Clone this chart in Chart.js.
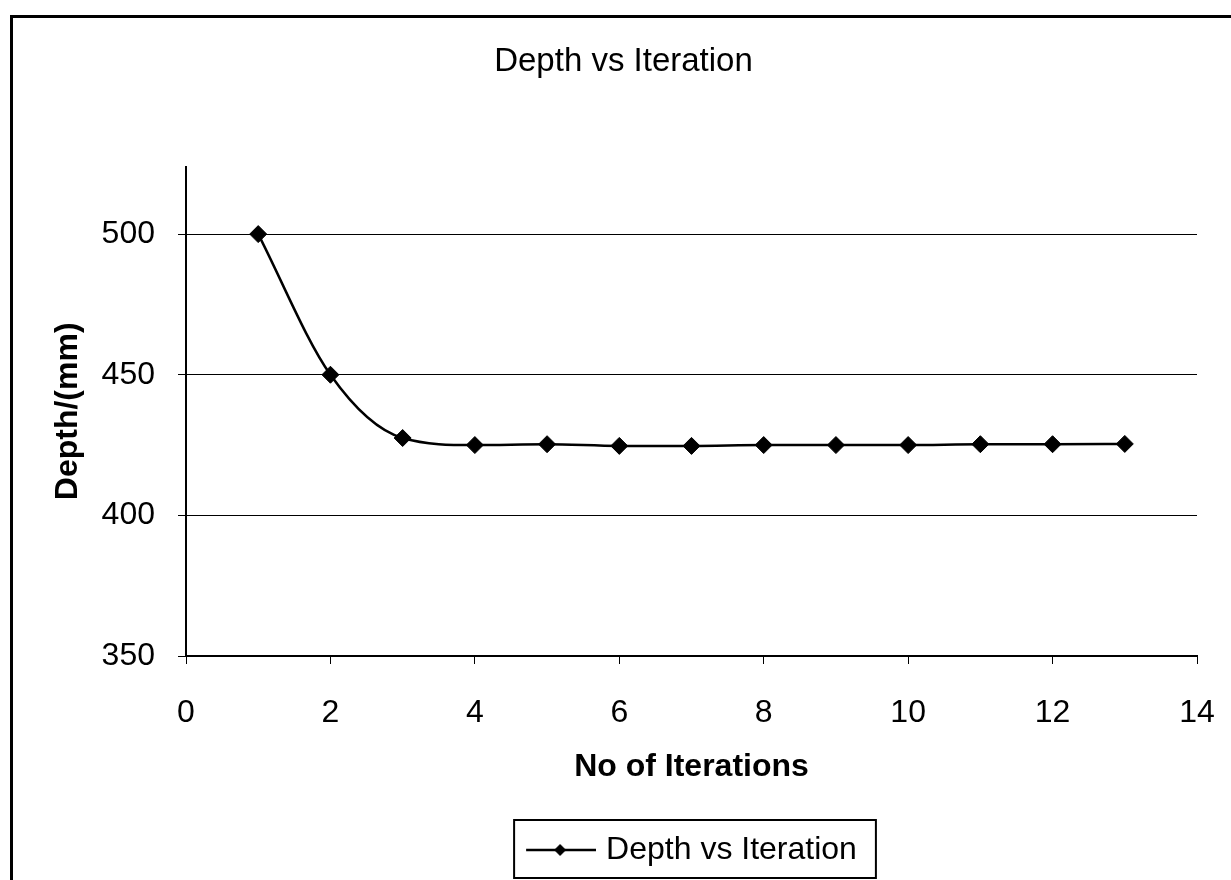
<!DOCTYPE html>
<html>
<head>
<meta charset="utf-8">
<title>Depth vs Iteration</title>
<script src="https://cdn.jsdelivr.net/npm/chart.js@4.4.0/dist/chart.umd.min.js"></script>
<style>
  html, body { margin: 0; padding: 0; background: #fff; }
  #wrap { width: 1231px; height: 880px; }
</style>
</head>
<body>
<div id="wrap"><canvas id="depthChart" width="1231" height="880"></canvas></div>
<script>
// values
const iterations = [1, 2, 3, 4, 5, 6, 7, 8, 9, 10, 11, 12, 13];
const depths = [500, 450, 427.5, 425, 425.3, 424.7, 424.7, 425, 425, 425, 425.3, 425.3, 425.4];
const xTickValues = [0, 2, 4, 6, 8, 10, 12, 14];
const yTickValues = [350, 400, 450, 500];

const FONT = "'Liberation Sans', Arial, sans-serif";

// legend marker: short line with a diamond on it (line sits in the right 70px)
const legendMarker = document.createElement('canvas');
legendMarker.width = 76;
legendMarker.height = 18;
(function () {
  const c = legendMarker.getContext('2d');
  c.strokeStyle = '#000';
  c.lineWidth = 2.5;
  c.beginPath();
  c.moveTo(6, 9);
  c.lineTo(76, 9);
  c.stroke();
  c.fillStyle = '#000';
  c.beginPath();
  c.moveTo(40, 3);
  c.lineTo(46, 9);
  c.lineTo(40, 15);
  c.lineTo(34, 9);
  c.closePath();
  c.fill();
})();

const framePlugin = {
  id: 'frame',
  beforeDraw(chart) {
    const ctx = chart.ctx;
    ctx.save();
    ctx.fillStyle = '#fff';
    ctx.fillRect(0, 0, chart.width, chart.height);
    ctx.strokeStyle = '#000';
    ctx.lineWidth = 3;
    ctx.strokeRect(11.5, 16.5, 1400, 1000);
    ctx.restore();
  },
  afterDraw(chart) {
    const hb = chart.legend && chart.legend.legendHitBoxes && chart.legend.legendHitBoxes[0];
    if (!hb) return;
    const ctx = chart.ctx;
    ctx.save();
    ctx.strokeStyle = '#000';
    ctx.lineWidth = 2;
    ctx.strokeRect(hb.left - 12, hb.top - 14, hb.width + 31, hb.height + 26);
    ctx.restore();
  }
};

const ctx = document.getElementById('depthChart').getContext('2d');
new Chart(ctx, {
  type: 'line',
  data: {
    datasets: [{
      label: 'Depth vs Iteration',
      data: iterations.map((x, i) => ({ x: x, y: depths[i] })),
      borderColor: '#000',
      backgroundColor: '#000',
      borderWidth: 2.5,
      cubicInterpolationMode: 'monotone',
      pointStyle: 'rectRot',
      pointRadius: 8.5,
      pointHoverRadius: 8.5,
      pointBackgroundColor: '#000',
      pointBorderColor: '#000',
      pointBorderWidth: 1,
      fill: false
    }]
  },
  options: {
    responsive: false,
    animation: false,
    layout: { padding: { left: 50, right: 34, top: 0, bottom: 4 } },
    plugins: {
      title: {
        display: true,
        text: 'Depth vs Iteration',
        color: '#000',
        font: { family: FONT, size: 33, weight: 'normal' },
        padding: { top: 42, bottom: 85 }
      },
      legend: {
        display: true,
        position: 'bottom',
        fullSize: false,
        labels: {
          usePointStyle: true,
          pointStyleWidth: 64,
          color: '#000',
          font: { family: FONT, size: 32 },
          generateLabels(chart) {
            const items = Chart.defaults.plugins.legend.labels.generateLabels(chart);
            items.forEach(it => { it.pointStyle = legendMarker; });
            return items;
          }
        }
      },
      tooltip: { enabled: false }
    },
    scales: {
      x: {
        type: 'linear',
        min: 0,
        max: 14,
        afterBuildTicks(scale) {
          scale.ticks = xTickValues.map(v => ({ value: v }));
        },
        afterFit(scale) {
          scale.height = 168;
          scale.paddingLeft = 0;
          scale.paddingRight = 18;
        },
        grid: { drawOnChartArea: false, drawTicks: true, tickLength: 8, color: '#000' },
        border: { color: '#000', width: 2 },
        ticks: { color: '#000', font: { family: FONT, size: 32 }, padding: 30, maxRotation: 0 },
        title: {
          display: true,
          text: 'No of Iterations',
          color: '#000',
          font: { family: FONT, size: 32, weight: 'bold' },
          padding: { top: 0, bottom: 38 }
        }
      },
      y: {
        type: 'linear',
        min: 350,
        max: 524,
        afterBuildTicks(scale) {
          scale.ticks = yTickValues.map(v => ({ value: v }));
        },
        afterFit(scale) { scale.width = 136; },
        grid: { drawOnChartArea: true, drawTicks: true, tickLength: 8, color: '#000', lineWidth: 1 },
        border: { color: '#000', width: 2 },
        ticks: { color: '#000', font: { family: FONT, size: 32 }, padding: 23 },
        title: {
          display: true,
          text: 'Depth/(mm)',
          color: '#000',
          font: { family: FONT, size: 32, weight: 'bold', lineHeight: 1 },
          padding: { top: 2, bottom: 0 }
        }
      }
    }
  },
  plugins: [framePlugin]
});
</script>
</body>
</html>
